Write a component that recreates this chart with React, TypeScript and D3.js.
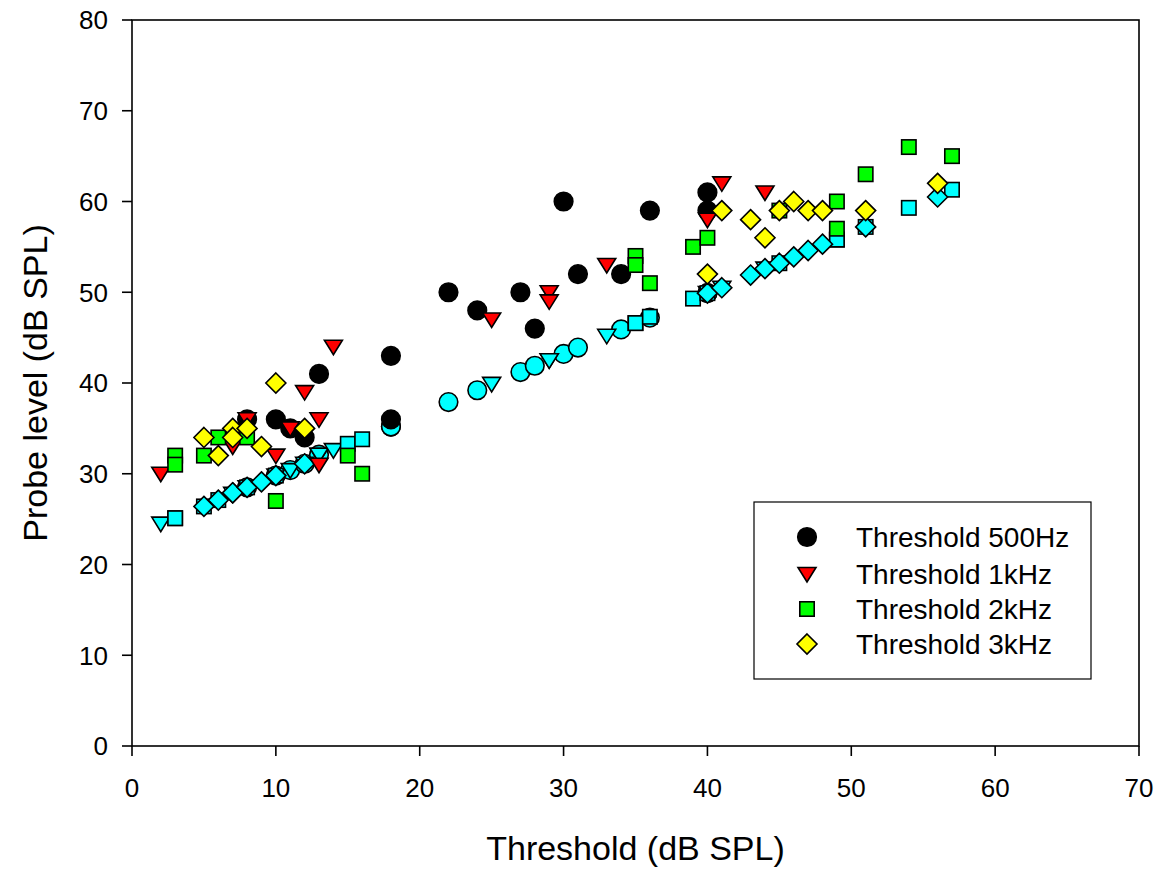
import React from "react";
import * as d3 from "d3";

// ---- data ----
const xTicks = [0, 10, 20, 30, 40, 50, 60, 70];
const yTicks = [0, 10, 20, 30, 40, 50, 60, 70, 80];

const legendLabels = ["Threshold 500Hz", "Threshold 1kHz", "Threshold 2kHz", "Threshold 3kHz"];

const x500 = [8, 10, 11, 12, 13, 18, 18, 22, 24, 27, 28, 30, 31, 34, 36, 40, 40];
const y500 = [36, 36, 35, 34, 41, 43, 36, 50, 48, 50, 46, 60, 52, 52, 59, 61, 59];
const c500 = [28.5, 29.8, 30.4, 31.1, 32.1, 35.2, 35.2, 37.9, 39.2, 41.2, 41.9, 43.2, 43.9, 45.9, 47.2, 49.9, 49.9];

const x1k = [2, 7, 8, 10, 11, 12, 13, 13, 14, 25, 29, 29, 33, 40, 41, 44];
const y1k = [30, 33, 36, 32, 35, 39, 36, 31, 44, 47, 50, 49, 53, 58, 62, 61];
const c1k = [24.5, 27.8, 28.5, 29.8, 30.4, 31.1, 32.1, 32.1, 32.6, 39.9, 42.5, 42.5, 45.2, 49.9, 50.5, 52.6];

const x2k = [3, 3, 5, 6, 8, 10, 15, 16, 35, 35, 36, 39, 40, 45, 49, 49, 51, 54, 57];
const y2k = [32, 31, 32, 34, 34, 27, 32, 30, 54, 53, 51, 55, 56, 59, 60, 57, 63, 66, 65];
const c2k = [25.1, 25.1, 26.4, 27.1, 28.5, 29.8, 33.3, 33.8, 46.6, 46.6, 47.3, 49.3, 49.9, 53.2, 55.8, 55.8, 57.2, 59.3, 61.3];

const x3k = [5, 6, 7, 7, 8, 9, 10, 12, 40, 41, 43, 44, 45, 46, 47, 48, 51, 56];
const y3k = [34, 32, 35, 34, 35, 33, 40, 35, 52, 59, 58, 56, 59, 60, 59, 59, 59, 62];
const c3k = [26.4, 27.1, 27.9, 27.9, 28.5, 29.1, 29.8, 31.1, 49.9, 50.5, 51.9, 52.6, 53.2, 53.9, 54.6, 55.3, 57.2, 60.5];

type Shape = "circle" | "triangle" | "square" | "diamond";

function Marker({ shape, cx, cy, fill }: { shape: Shape; cx: number; cy: number; fill: string }) {
  const sw = 1.6;
  if (shape === "circle") return <circle cx={cx} cy={cy} r={9.3} fill={fill} stroke="#000" strokeWidth={sw} />;
  if (shape === "triangle")
    return (
      <path
        d={`M${cx - 9},${cy - 6.5}L${cx + 9},${cy - 6.5}L${cx},${cy + 8}Z`}
        fill={fill}
        stroke="#000"
        strokeWidth={sw}
        strokeLinejoin="miter"
      />
    );
  if (shape === "square")
    return <rect x={cx - 7.2} y={cy - 7.2} width={14.4} height={14.4} fill={fill} stroke="#000" strokeWidth={sw} />;
  return (
    <path
      d={`M${cx},${cy - 10}L${cx + 10},${cy}L${cx},${cy + 10}L${cx - 10},${cy}Z`}
      fill={fill}
      stroke="#000"
      strokeWidth={sw}
    />
  );
}

export default function App() {
  const W = 1156;
  const H = 869;
  const left = 132, right = 1139, top = 20, bottom = 746;
  const x = d3.scaleLinear().domain([0, 70]).range([left, right]);
  const y = d3.scaleLinear().domain([0, 80]).range([bottom, top]);
  const font = "'Liberation Sans', Arial, sans-serif";

  const series: { xs: number[]; ys: number[]; cs: number[]; shape: Shape; color: string }[] = [
    { xs: x500, ys: y500, cs: c500, shape: "circle", color: "#000000" },
    { xs: x1k, ys: y1k, cs: c1k, shape: "triangle", color: "#ff0000" },
    { xs: x2k, ys: y2k, cs: c2k, shape: "square", color: "#00ff00" },
    { xs: x3k, ys: y3k, cs: c3k, shape: "diamond", color: "#ffff00" },
  ];

  const legendX = 807;
  const legendYs = [537, 574, 609, 644];

  return (
    <svg width={W} height={H} style={{ position: "absolute", left: 0, top: 0, background: "#fff" }}>
      <rect x={0} y={0} width={W} height={H} fill="#fff" />
      {/* frame */}
      <rect x={left} y={top} width={right - left} height={bottom - top} fill="none" stroke="#000" strokeWidth={1.6} />
      {/* y ticks */}
      {yTicks.map((t) => (
        <g key={"y" + t}>
          <line x1={left - 10} x2={left} y1={y(t)} y2={y(t)} stroke="#000" strokeWidth={1.6} />
          <text x={108} y={y(t)} dy="0.36em" textAnchor="end" fontFamily={font} fontSize={26}>
            {t}
          </text>
        </g>
      ))}
      {/* x ticks */}
      {xTicks.map((t) => (
        <g key={"x" + t}>
          <line x1={x(t)} x2={x(t)} y1={bottom} y2={bottom + 10} stroke="#000" strokeWidth={1.6} />
          <text x={x(t)} y={797} textAnchor="middle" fontFamily={font} fontSize={26}>
            {t}
          </text>
        </g>
      ))}
      <text x={(left + right) / 2} y={860} textAnchor="middle" fontFamily={font} fontSize={34}>
        Threshold (dB SPL)
      </text>
      <text
        transform={`translate(47,${(top + bottom) / 2}) rotate(-90)`}
        textAnchor="middle"
        fontFamily={font}
        fontSize={34}
      >
        Probe level (dB SPL)
      </text>
      {/* cyan predicted points */}
      {series.map((s, si) =>
        s.xs.map((xv, i) => <Marker key={`c${si}-${i}`} shape={s.shape} cx={x(xv)} cy={y(s.cs[i])} fill="#00ffff" />)
      )}
      {/* measured points */}
      {series.map((s, si) =>
        s.xs.map((xv, i) => <Marker key={`m${si}-${i}`} shape={s.shape} cx={x(xv)} cy={y(s.ys[i])} fill={s.color} />)
      )}
      {/* legend */}
      <rect x={754} y={502} width={337} height={177} fill="#fff" stroke="#000" strokeWidth={1.2} />
      {series.map((s, i) => (
        <g key={"l" + i}>
          <Marker shape={s.shape} cx={legendX} cy={legendYs[i]} fill={s.color} />
          <text x={856} y={legendYs[i]} dy="0.36em" fontFamily={font} fontSize={28}>
            {legendLabels[i]}
          </text>
        </g>
      ))}
    </svg>
  );
}
